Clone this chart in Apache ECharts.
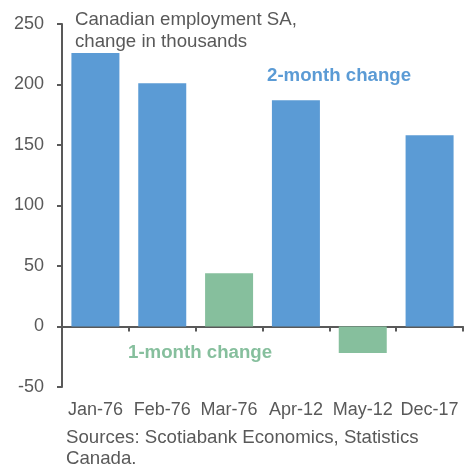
<!DOCTYPE html>
<html><head><meta charset="utf-8">
<script src="https://cdn.jsdelivr.net/npm/echarts@6/dist/echarts.min.js"></script>
<style>html,body{margin:0;padding:0;background:#fff}#c{width:470px;height:466px}</style>
</head><body><div id="c"></div>
<script>
const categories = ['Jan-76','Feb-76','Mar-76','Apr-12','May-12','Dec-17'];
const values = [226, 201, 44, 187, -22, 158];
const kinds = ['2m','2m','1m','2m','1m','2m'];
const yTicks = {min: -50, max: 250, interval: 50};
const BLUE = '#5B9BD5', GREEN = '#86BF9D', GREY = '#595959';
const FONT = 'Liberation Sans, Arial, sans-serif';

const chart = echarts.init(document.getElementById('c'));
chart.setOption({
  animation: false,
  grid: {left: 62, right: 7, top: 24, bottom: 79, containLabel: false},
  xAxis: [
    {type: 'category', data: categories,
     axisLine: {onZero: true, lineStyle: {color: GREY, width: 2}},
     axisTick: {show: true, length: 5, lineStyle: {color: GREY, width: 2}},
     axisLabel: {show: false}},
    {type: 'category', data: categories, position: 'bottom',
     axisLine: {show: false, onZero: false}, axisTick: {show: false},
     axisLabel: {color: GREY, fontSize: 18, fontFamily: FONT, margin: 14, interval: 0}}
  ],
  yAxis: {type: 'value', min: yTicks.min, max: yTicks.max, interval: yTicks.interval,
    splitLine: {show: false},
    axisLine: {show: true, lineStyle: {color: GREY, width: 2}},
    axisTick: {show: true, length: 5, lineStyle: {color: GREY, width: 2}},
    axisLabel: {color: GREY, fontSize: 18, fontFamily: FONT, margin: 18}},
  series: [{type: 'bar', xAxisIndex: 0, barWidth: 48,
    data: values.map((v, i) => ({value: v, itemStyle: {color: kinds[i] === '1m' ? GREEN : BLUE}}))}],
  graphic: [
    {type: 'text', left: 75, top: 9, style: {text: 'Canadian employment SA,\nchange in thousands', fill: GREY, font: '18.67px ' + FONT, lineHeight: 22}},
    {type: 'text', left: 267, top: 66, style: {text: '2-month change', fill: BLUE, font: 'bold 18.67px ' + FONT}},
    {type: 'text', left: 128, top: 343, style: {text: '1-month change', fill: GREEN, font: 'bold 18.67px ' + FONT}},
    {type: 'text', left: 66, top: 427, style: {text: 'Sources: Scotiabank Economics, Statistics\nCanada.', fill: GREY, font: '18.67px ' + FONT, lineHeight: 21}}
  ]
});
</script></body></html>
